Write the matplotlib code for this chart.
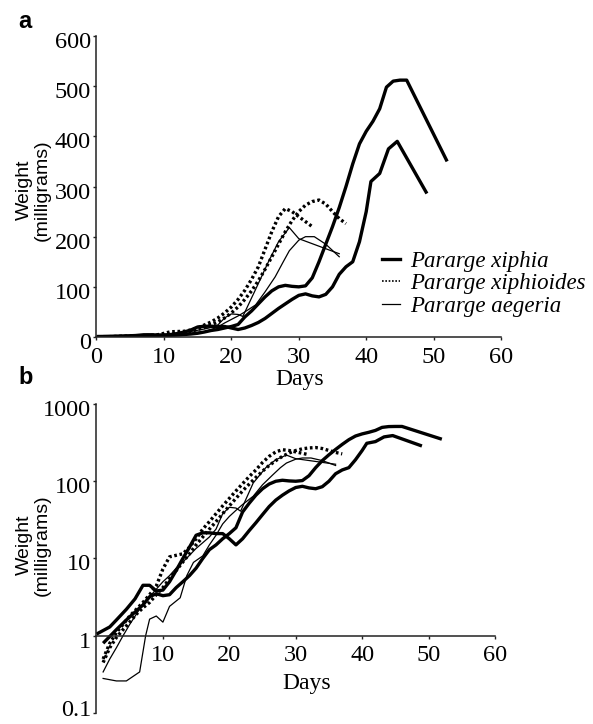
import matplotlib
matplotlib.use("Agg")
import matplotlib.pyplot as plt
from matplotlib.lines import Line2D
from matplotlib.transforms import ScaledTranslation

# Pararge xiphia, two larvae
xa_days = [1, 3, 4.5, 6, 7, 8, 9, 10, 11, 12, 13, 14, 15, 16, 17, 18, 19, 20, 21, 22, 23, 24, 25,
           26, 27, 28, 29, 30, 31, 32, 33, 34, 35, 36, 37, 38, 39, 40, 41, 42, 43, 44, 45, 46, 52]
xa_wt = [0.8, 1.2, 1.6, 2.1, 2.5, 3.2, 3.5, 3.3, 3.4, 4.2, 5, 6, 7.5, 10, 13, 15, 18, 21, 25, 40, 52,
         66, 80, 92, 100, 103, 101, 100, 102, 118, 150, 185, 220, 258, 300, 345, 385, 410, 430, 455,
         498, 510, 512, 512, 350]
xb_days = [0, 2, 3, 4.5, 5.8, 7, 8, 9, 10, 11, 12, 13, 14, 15, 16, 17, 18, 19, 20, 21, 22, 23, 24,
           25, 26, 27, 28, 29, 30, 31, 32, 33, 34, 35, 36, 37, 38, 39, 40, 40.7, 42, 43.3, 44.6, 49]
xb_wt = [1.05, 1.3, 1.6, 2.2, 3.0, 4.5, 4.5, 3.8, 3.9, 5, 7, 10, 14, 20, 21.5, 21.5, 21, 21, 18, 15,
         18, 23, 29, 37, 47, 57, 66, 75, 83, 86, 82, 80, 85, 100, 125, 140, 150, 190, 250, 310, 326,
         375, 390, 286]

# Pararge xiphioides, two larvae
da_days = [1, 2, 3, 4, 5, 6, 7, 8, 9, 10, 11, 12, 13, 14, 15, 16, 17, 18, 19, 20, 21, 22, 23, 24,
           25, 26, 27, 28, 29, 30, 31, 32]
da_wt = [0.5, 0.8, 1.1, 1.4, 1.8, 2.2, 2.7, 3.4, 4.4, 7.3, 10.5, 11, 11.5, 14, 18, 24, 30, 38, 48,
         60, 75, 93, 115, 140, 175, 210, 240, 256, 250, 240, 230, 220]
db_days = [1, 2, 3, 4, 5, 6, 7, 8, 9, 10, 11, 12, 13, 14, 15, 16, 17, 18, 19, 20, 21, 22, 23, 24,
           25, 26, 27, 28, 29, 30, 31, 32, 33, 34, 35, 36, 37]
db_wt = [0.45, 0.7, 0.95, 1.2, 1.5, 1.9, 2.3, 2.7, 3.4, 4.2, 5.5, 7, 9, 11.5, 15, 19, 24, 30, 38,
         48, 60, 75, 92, 112, 135, 160, 185, 210, 232, 250, 263, 270, 273, 265, 250, 236, 226]

# Pararge aegeria, two larvae
ta_days = [1, 2, 3, 4, 5, 6, 7, 8, 9, 10, 11, 12, 13, 14, 15, 16, 17, 18, 19, 20, 21, 21.7, 23.6,
           25.5, 27, 28.6, 30, 36]
ta_wt = [0.34, 0.5, 0.7, 1.0, 1.4, 1.9, 2.6, 3.2, 4, 5, 6, 7.5, 9, 11, 13.5, 16, 19, 24, 38, 46,
         45, 41, 95, 150, 190, 218, 196, 166]
tb_days = [1, 3, 4.5, 6.5, 7.4, 8, 9, 10, 11, 12.6, 13.6, 14.6, 16, 17, 18, 19, 20, 21, 22, 23.6,
           25, 26.5, 27.7, 28.6, 30, 31, 32.3, 34, 36]
tb_wt = [0.28, 0.26, 0.26, 0.34, 1.0, 1.64, 1.8, 1.5, 2.4, 3.1, 6, 8.9, 10.8, 15, 20, 28, 35, 42, 50,
         64, 90, 120, 150, 172, 193, 200, 200, 185, 160]

species = ['Pararge xiphia', 'Pararge xiphioides', 'Pararge aegeria']

fig = plt.figure(figsize=(5.93, 7.24), dpi=100)
ax1 = fig.add_axes([0.1627, 0.5345, 0.6823, 0.4158])
ax2 = fig.add_axes([0.1627, 0.0152, 0.672, 0.4268])

thick = dict(color='black', lw=2.4, solid_capstyle='butt')
dots = dict(color='black', lw=2.4, linestyle=(0, (0.8, 0.8)))
thin = dict(color='black', lw=0.9)

for ax in (ax1, ax2):
    ax.plot(xa_days, xa_wt, **thick)
    ax.plot(xb_days, xb_wt, **thick)
    ax.plot(da_days, da_wt, **dots)
    ax.plot(db_days, db_wt, **dots)
    ax.plot(ta_days, ta_wt, **thin)
    ax.plot(tb_days, tb_wt, **thin)
    for s in ('top', 'right'):
        ax.spines[s].set_visible(False)
    for s in ('left', 'bottom'):
        ax.spines[s].set_linewidth(1.1)
        ax.spines[s].set_color('#222222')
    ax.set_xlim(0, 60)
    ax.tick_params(length=2.5, width=1, pad=1.5, labelsize=17.5, colors='#222222',
                   labelcolor='black')
    ax.tick_params(axis='x', pad=4.5)

# panel a
ax1.set_ylim(0, 600)
ax1.set_xticks([0, 10, 20, 30, 40, 50, 60])
ax1.set_yticks([0, 100, 200, 300, 400, 500, 600])

# panel b
ax2.set_yscale('log')
ax2.set_ylim(0.1, 1000)
ax2.spines['bottom'].set_position(('data', 1))
ax2.set_xticks([10, 20, 30, 40, 50, 60])
ax2.set_yticks([0.1, 1, 10, 100, 1000])
ax2.set_yticklabels(['0.1', '1', '10', '100', '1000'])
ax2.minorticks_off()

for ax in (ax1, ax2):
    for lab in ax.get_xticklabels() + ax.get_yticklabels():
        lab.set_fontfamily('Liberation Serif')

shift_down = ScaledTranslation(0, -0.04, fig.dpi_scale_trans)
shift_up = ScaledTranslation(0, 0.05, fig.dpi_scale_trans)
for ax in (ax1, ax2):
    for lab in ax.get_yticklabels():
        if lab.get_text() == '0.1':
            lab.set_transform(lab.get_transform() + shift_up)
        else:
            lab.set_transform(lab.get_transform() + shift_down)

handles = [Line2D([], [], color='black', lw=2.4),
           Line2D([], [], color='black', lw=1.2, linestyle=(0, (1, 1))),
           Line2D([], [], color='black', lw=0.9)]
leg = ax1.legend(handles, species, loc='upper left', bbox_to_anchor=(0.644, 0.653),
                 bbox_transform=fig.transFigure, frameon=False, borderpad=0, borderaxespad=0,
                 handlelength=0.8, handletextpad=0.45, labelspacing=0.05,
                 prop={'family': 'Liberation Serif', 'style': 'italic', 'size': 16.5})

# axis titles
fig.text(300 / 593, 1 - 379 / 724, 'Days', ha='center', va='center',
         family='Liberation Serif', fontsize=17)
fig.text(307 / 593, 1 - 683 / 724, 'Days', ha='center', va='center',
         family='Liberation Serif', fontsize=17)
for yc in (190, 545):
    fig.text(33 / 593, 1 - yc / 724, 'Weight\n(milligrams)', rotation=90, ha='center',
             va='center', multialignment='center', linespacing=1.05,
             family='Liberation Sans', fontsize=14)

fig.text(18 / 593, 1 - 28 / 724, 'a', family='Liberation Sans', fontweight='bold',
         fontsize=17, va='baseline')
fig.text(18 / 593, 1 - 384 / 724, 'b', family='Liberation Sans', fontweight='bold',
         fontsize=17, va='baseline')

fig.savefig('out.png', dpi=100)
